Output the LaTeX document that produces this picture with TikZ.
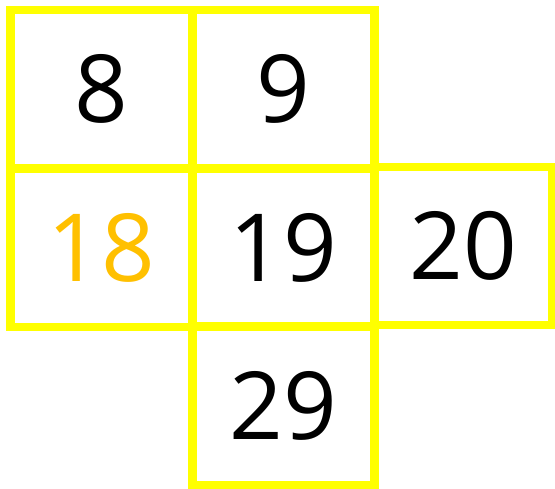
\documentclass[tikz,border=0pt]{standalone}
\usepackage{fontspec}
\usepackage{xcolor}
\usepackage{tikz}
\usetikzlibrary{positioning}
\newfontfamily\numfont{Open Sans}
\definecolor{GridYellow}{RGB}{255,255,0}
\definecolor{HiOrange}{RGB}{255,192,0}

\begin{document}
\begin{tikzpicture}[x=1pt, y=-1pt,
            cell/.style={rectangle, draw=GridYellow, line width=8.5pt,
                         minimum width=182pt, minimum height=158.5pt,
                         inner sep=0pt, font=\numfont\fontsize{94}{94}\selectfont,
                         align=center}
          ]
          % Background and margins
          \fill[white] (0,0) rectangle (555,488);
          \useasboundingbox (0,0) rectangle (555,488);
          % Top row
          \foreach \n/\x in {8/101.5, 9/283.5} {
            \node[cell] (c\n) at (\x, 89.25) {\n};
          }
          % Middle row
          \node[cell, text=HiOrange] (c18) at (101.5, 247.75) {18};
          \node[cell] (c19) at (283.5, 247.75) {19};
          \node[cell, minimum width=177.5pt, minimum height=158pt] (c20) at (463.25, 246) {20};
          % Bottom row
          \node[cell] (c29) at (283.5, 405.75) {29};
        \end{tikzpicture}
\end{document}
